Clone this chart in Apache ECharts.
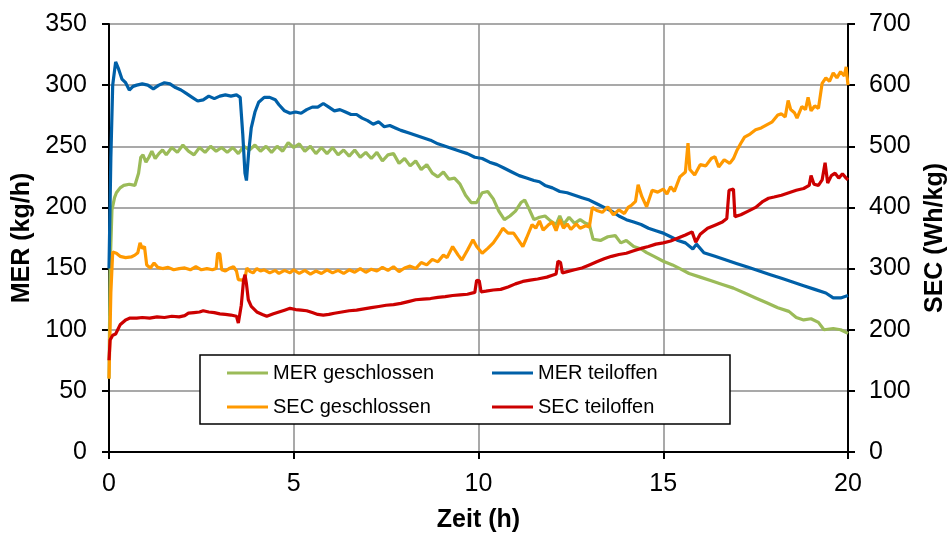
<!DOCTYPE html>
<html><head><meta charset="utf-8">
<script src="https://cdn.jsdelivr.net/npm/echarts@6/dist/echarts.min.js"></script>
<style>html,body{margin:0;padding:0;background:#fff}#c{width:952px;height:533px}</style>
</head><body><div id="c"></div>
<script>
const xTicks = [0, 5, 10, 15, 20];
const seriesNames = ['MER geschlossen', 'MER teiloffen', 'SEC geschlossen', 'SEC teiloffen'];

// MER geschlossen (kg/h) [Zeit h, value]
const merGeschlossen = [
[0,60],[0.03,150],[0.08,198],[0.15,208],[0.2,212],[0.3,216],[0.4,218],[0.55,219],[0.7,218],[0.8,228],[0.86,241],[0.92,243],[1.0,237],[1.08,241],[1.16,246],[1.25,240],[1.35,244],[1.45,247],[1.55,243],[1.7,249],[1.85,245],[2.0,251],[2.15,246],[2.3,243],[2.45,249],[2.6,245],[2.75,250],[2.9,246],[3.05,249],[3.2,245],[3.35,249],[3.5,244],[3.65,250],[3.8,247],[3.95,251],[4.1,246],[4.25,250],[4.4,245],[4.55,250],[4.7,246],[4.85,253],[5.0,249],[5.15,252],[5.3,246],[5.45,250],[5.6,244],[5.75,249],[5.9,244],[6.05,249],[6.2,243],[6.35,247],[6.5,242],[6.65,247],[6.8,241],[6.95,245],[7.1,240],[7.25,245],[7.4,238],[7.55,243],[7.7,244],[7.85,236],[8.0,240],[8.15,234],[8.3,238],[8.45,231],[8.6,235],[8.75,228],[8.9,225],[9.05,229],[9.2,223],[9.35,224],[9.5,219],[9.65,210],[9.8,204],[9.95,204],[10.1,212],[10.25,213],[10.4,207],[10.55,197],[10.7,190],[10.85,193],[11.0,197],[11.15,204],[11.25,206],[11.35,200],[11.5,190],[11.65,192],[11.8,193],[11.95,189],[12.1,186],[12.2,193],[12.3,186],[12.45,192],[12.6,187],[12.75,190],[12.9,187],[13.0,186],[13.1,174],[13.3,173],[13.5,176],[13.7,177],[13.85,171],[14.0,173],[14.2,168],[14.4,166],[14.55,163],[14.75,160],[15.0,156],[15.25,153],[15.45,150],[15.7,146],[16.0,143],[16.3,140],[16.6,137],[16.9,134],[17.2,130],[17.5,126],[17.8,122],[18.1,118],[18.4,115],[18.6,110],[18.8,108],[19.0,109],[19.2,106],[19.35,100],[19.6,101],[19.8,100],[20.0,97]
];

// MER teiloffen (kg/h)
const merTeiloffen = [
[0,150],[0.05,240],[0.1,300],[0.18,319],[0.25,314],[0.35,305],[0.45,302],[0.55,296],[0.65,299],[0.75,300],[0.9,301],[1.05,300],[1.2,297],[1.35,300],[1.5,302],[1.65,301],[1.8,298],[1.95,296],[2.1,293],[2.25,290],[2.4,287],[2.55,288],[2.7,291],[2.85,289],[3.0,291],[3.15,292],[3.3,291],[3.45,292],[3.55,290],[3.62,260],[3.68,228],[3.72,222],[3.78,245],[3.85,265],[3.95,278],[4.05,286],[4.2,290],[4.35,290],[4.5,288],[4.6,284],[4.75,279],[4.9,277],[5.05,278],[5.2,277],[5.35,280],[5.5,282],[5.65,282],[5.8,285],[5.95,282],[6.1,279],[6.25,280],[6.4,278],[6.55,276],[6.7,276],[6.85,273],[7.0,271],[7.15,268],[7.3,270],[7.45,266],[7.6,267],[7.75,265],[7.9,263],[8.1,261],[8.3,259],[8.5,257],[8.7,255],[8.9,252],[9.1,250],[9.3,248],[9.5,246],[9.7,244],[9.9,241],[10.1,240],[10.3,237],[10.5,235],[10.7,232],[10.9,229],[11.1,226],[11.3,224],[11.5,222],[11.65,221],[11.8,218],[12.0,216],[12.2,213],[12.4,212],[12.6,210],[12.8,208],[13.0,206],[13.2,203],[13.4,200],[13.6,197],[13.8,193],[14.0,190],[14.2,188],[14.4,186],[14.6,183],[14.8,181],[15.0,179],[15.2,176],[15.4,173],[15.6,171],[15.8,166],[15.9,170],[16.1,163],[16.4,160],[16.7,157],[17.0,154],[17.3,151],[17.6,148],[17.9,145],[18.2,142],[18.5,139],[18.8,136],[19.1,133],[19.4,130],[19.6,126],[19.8,126],[20.0,128]
];

// SEC geschlossen (Wh/kg)
const secGeschlossen = [
[0,120],[0.05,260],[0.1,327],[0.2,325],[0.3,320],[0.45,318],[0.6,319],[0.7,322],[0.78,326],[0.84,342],[0.9,333],[0.96,336],[1.02,306],[1.12,301],[1.22,309],[1.32,302],[1.45,300],[1.6,302],[1.75,298],[1.9,300],[2.05,301],[2.2,298],[2.35,303],[2.5,298],[2.65,300],[2.8,298],[2.9,300],[2.94,325],[3.0,324],[3.05,298],[3.15,296],[3.25,300],[3.37,303],[3.45,296],[3.5,282],[3.6,281],[3.68,284],[3.73,301],[3.82,295],[3.9,293],[4.0,300],[4.1,296],[4.2,298],[4.35,293],[4.5,297],[4.6,292],[4.75,297],[4.9,293],[5.0,298],[5.15,292],[5.3,297],[5.45,291],[5.6,296],[5.75,292],[5.9,298],[6.05,293],[6.2,297],[6.35,292],[6.5,298],[6.65,294],[6.8,300],[6.95,294],[7.1,299],[7.25,296],[7.4,302],[7.55,297],[7.7,303],[7.85,295],[8.0,301],[8.15,304],[8.3,300],[8.45,310],[8.6,306],[8.75,315],[8.9,311],[9.05,322],[9.15,318],[9.3,336],[9.45,322],[9.55,314],[9.7,330],[9.85,347],[9.95,336],[10.1,325],[10.25,333],[10.4,342],[10.55,355],[10.66,366],[10.8,358],[10.95,358],[11.1,345],[11.2,336],[11.3,350],[11.45,372],[11.55,366],[11.65,378],[11.75,363],[11.9,372],[12.0,376],[12.1,362],[12.2,380],[12.3,366],[12.4,373],[12.5,364],[12.65,373],[12.75,366],[12.9,370],[13.0,368],[13.08,400],[13.2,395],[13.35,392],[13.5,401],[13.65,388],[13.8,396],[13.95,390],[14.05,400],[14.15,404],[14.25,410],[14.32,437],[14.42,418],[14.55,401],[14.7,428],[14.85,425],[15.0,430],[15.1,422],[15.2,434],[15.3,426],[15.45,450],[15.6,458],[15.67,505],[15.72,462],[15.85,453],[16.0,470],[16.15,468],[16.3,480],[16.4,483],[16.5,466],[16.65,478],[16.8,472],[16.9,480],[17.0,494],[17.1,505],[17.2,515],[17.35,520],[17.5,527],[17.65,530],[17.8,535],[17.95,540],[18.1,551],[18.2,553],[18.3,548],[18.38,575],[18.45,560],[18.55,555],[18.62,546],[18.75,565],[18.85,560],[18.92,580],[19.0,558],[19.1,566],[19.2,562],[19.3,603],[19.4,612],[19.5,606],[19.6,620],[19.7,612],[19.8,622],[19.9,615],[19.95,630],[20.0,600]
];

// SEC teiloffen (Wh/kg)
const secTeiloffen = [
[0,150],[0.03,183],[0.1,191],[0.18,193],[0.3,208],[0.45,216],[0.57,219],[0.75,219],[0.9,220],[1.1,219],[1.3,221],[1.5,220],[1.7,222],[1.9,221],[2.05,223],[2.15,227],[2.3,228],[2.45,229],[2.55,231],[2.7,229],[2.85,228],[3.0,226],[3.15,225],[3.3,224],[3.45,222],[3.5,211],[3.58,240],[3.64,280],[3.68,290],[3.72,275],[3.77,249],[3.85,238],[4.0,229],[4.15,225],[4.27,222],[4.45,226],[4.6,229],[4.75,232],[4.9,235],[5.05,233],[5.2,232],[5.35,231],[5.5,228],[5.65,225],[5.8,224],[5.95,225],[6.1,227],[6.3,229],[6.5,231],[6.7,232],[6.9,234],[7.1,236],[7.3,238],[7.5,240],[7.7,241],[7.9,243],[8.1,246],[8.3,249],[8.5,250],[8.7,251],[8.9,253],[9.1,254],[9.3,256],[9.5,257],[9.7,258],[9.9,261],[9.95,281],[10.02,280],[10.07,262],[10.2,263],[10.4,265],[10.6,266],[10.8,270],[11.0,275],[11.2,279],[11.4,281],[11.6,283],[11.85,286],[12.0,289],[12.1,291],[12.15,312],[12.22,310],[12.27,293],[12.4,295],[12.6,298],[12.8,301],[13.0,306],[13.2,311],[13.4,316],[13.6,320],[13.8,323],[14.0,325],[14.2,329],[14.4,333],[14.6,336],[14.8,340],[15.0,342],[15.2,345],[15.4,350],[15.6,355],[15.78,360],[15.88,343],[16.0,356],[16.2,366],[16.4,371],[16.6,376],[16.72,382],[16.78,428],[16.9,430],[16.94,385],[17.1,388],[17.3,394],[17.5,400],[17.7,410],[17.85,415],[18.0,417],[18.2,420],[18.4,424],[18.6,428],[18.8,431],[18.95,436],[19.0,452],[19.08,438],[19.2,436],[19.3,445],[19.38,473],[19.45,440],[19.55,452],[19.65,456],[19.75,448],[19.85,455],[19.95,448],[20.0,445]
];

const colors = ['#9bbb59', '#0060a8', '#ff9900', '#cc0000'];
const FONT = '"Liberation Sans", Arial, sans-serif';
const chart = echarts.init(document.getElementById('c'), null, {renderer: 'canvas'});

function legendAt(name, left, top) {
  return {
    data: [name], left: left, top: top, orient: 'horizontal', padding: 0,
    icon: 'rect', itemWidth: 41, itemHeight: 3, itemGap: 0, selectedMode: false,
    textStyle: {fontFamily: FONT, fontSize: 20, color: '#000', lineHeight: 20}
  };
}

const axisCommon = {
  axisLine: {show: true, onZero: false, lineStyle: {color: '#000', width: 2}},
  axisTick: {show: true, inside: false, length: 7, lineStyle: {color: '#000', width: 2}},
  axisLabel: {fontFamily: FONT, fontSize: 25, color: '#000'},
  nameTextStyle: {fontFamily: FONT, fontSize: 25, fontWeight: 'bold', color: '#000'}
};

chart.setOption({
  animation: false,
  backgroundColor: '#fff',
  grid: {left: 109, right: 104, top: 24, bottom: 81, containLabel: false, outerBoundsMode: 'none'},
  graphic: [{
    type: 'rect', z: 3,
    shape: {x: 200, y: 355, width: 530, height: 69},
    style: {fill: '#fff', stroke: '#000', lineWidth: 1.5}
  }],
  legend: [
    legendAt(seriesNames[0], 227, 363),
    legendAt(seriesNames[2], 227, 397),
    legendAt(seriesNames[1], 492, 363),
    legendAt(seriesNames[3], 492, 397)
  ],
  xAxis: Object.assign({}, axisCommon, {
    type: 'value', min: xTicks[0], max: xTicks[xTicks.length - 1], interval: 5,
    name: 'Zeit (h)', nameLocation: 'middle', nameGap: 56,
    axisLabel: Object.assign({}, axisCommon.axisLabel, {margin: 20}),
    splitLine: {show: true, lineStyle: {color: '#8c8c8c', width: 1.5}}
  }),
  yAxis: [
    Object.assign({}, axisCommon, {
      type: 'value', min: 0, max: 350, interval: 50, position: 'left',
      name: 'MER (kg/h)', nameLocation: 'middle', nameGap: 72, nameRotate: 90,
      axisLabel: Object.assign({}, axisCommon.axisLabel, {margin: 22}),
      splitLine: {show: true, lineStyle: {color: '#8c8c8c', width: 1.5}}
    }),
    Object.assign({}, axisCommon, {
      type: 'value', min: 0, max: 700, interval: 100, position: 'right',
      name: 'SEC (Wh/kg)', nameLocation: 'middle', nameGap: 75, nameRotate: 90,
      axisLabel: Object.assign({}, axisCommon.axisLabel, {margin: 21}),
      splitLine: {show: false}
    })
  ],
  series: [
    {name: seriesNames[0], type: 'line', yAxisIndex: 0, data: merGeschlossen},
    {name: seriesNames[1], type: 'line', yAxisIndex: 0, data: merTeiloffen},
    {name: seriesNames[2], type: 'line', yAxisIndex: 1, data: secGeschlossen},
    {name: seriesNames[3], type: 'line', yAxisIndex: 1, data: secTeiloffen}
  ].map((s, i) => Object.assign(s, {
    symbol: 'none', showSymbol: false, smooth: false, z: 2,
    lineStyle: {color: colors[i], width: 3.2}, itemStyle: {color: colors[i]}
  }))
});
</script>
</body></html>
